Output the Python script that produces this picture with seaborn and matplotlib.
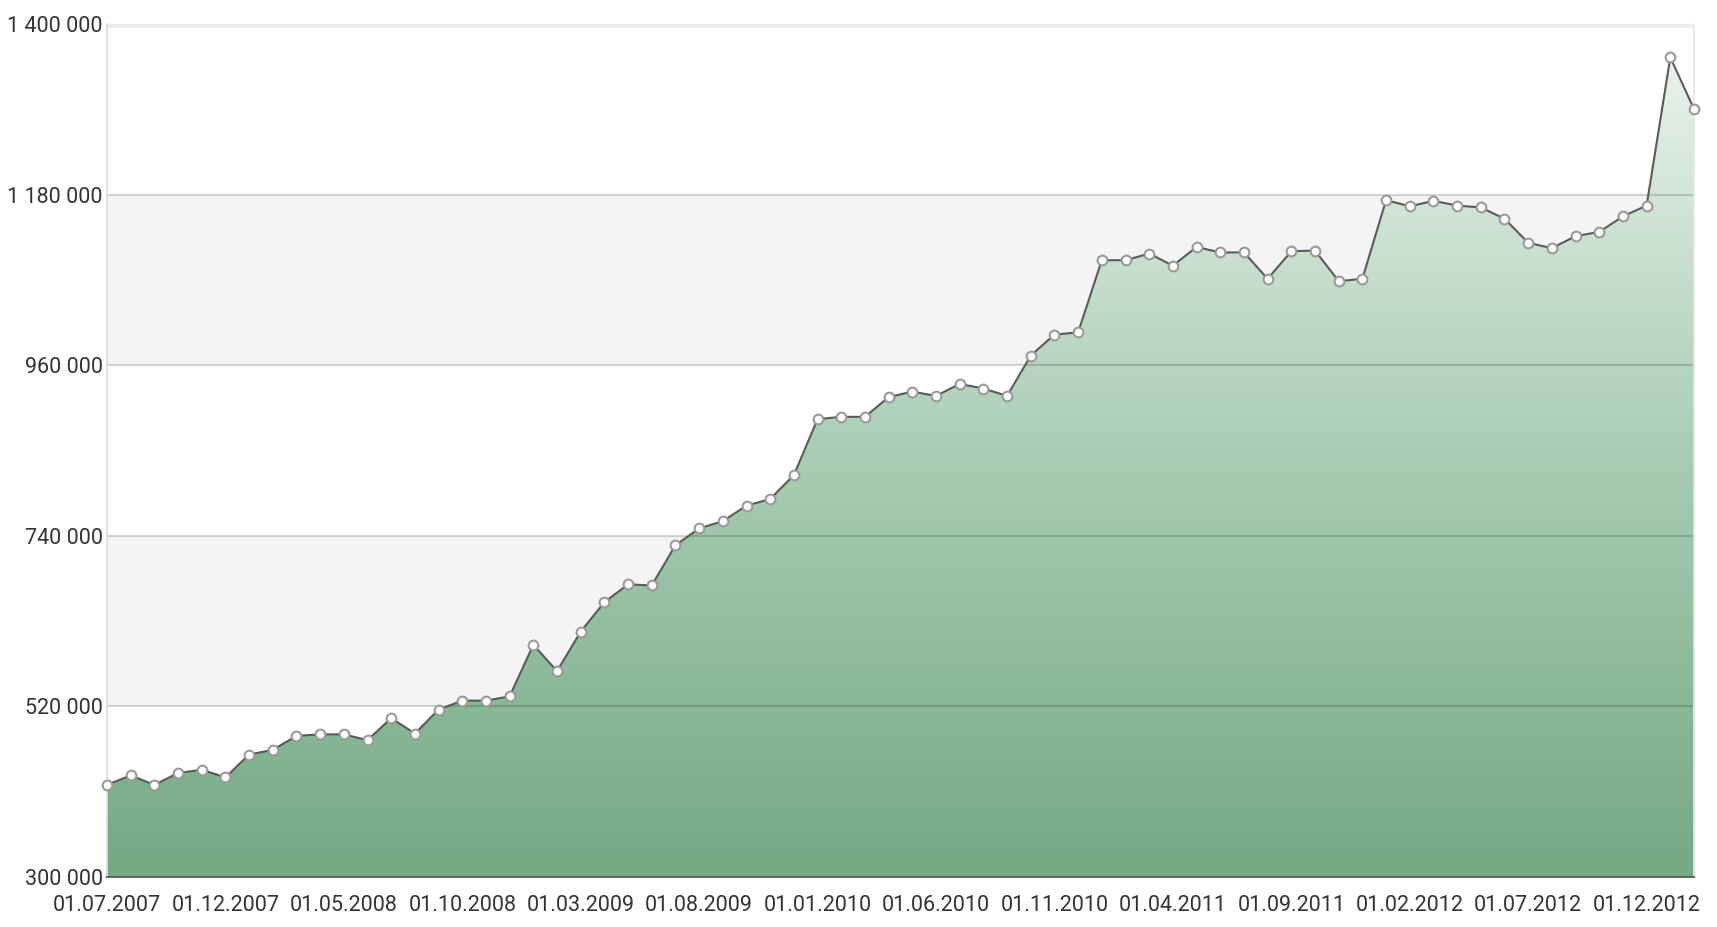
import numpy as np
import pandas as pd
import matplotlib
matplotlib.use("Agg")
import matplotlib.pyplot as plt
import seaborn as sns
from matplotlib.colors import LinearSegmentedColormap

# ---- data ----
months = pd.date_range("2007-07-01", "2013-02-01", freq="MS")
values = [419000, 431000, 419000, 434000, 438500, 428500, 458000, 464000, 482000, 484000,
          484000, 476500, 505000, 485000, 516000, 527500, 527500, 533000, 599500, 565500,
          616500, 654500, 677500, 676000, 728000, 749500, 759000, 779000, 787500, 818500,
          890500, 893500, 893500, 919000, 926000, 920500, 936000, 930000, 920500, 972500,
          999500, 1002500, 1095500, 1095500, 1104000, 1088500, 1112500, 1105500, 1105500, 1071500,
          1107000, 1108000, 1068500, 1071500, 1173000, 1165000, 1172000, 1166000, 1163500, 1149000,
          1118000, 1111000, 1126500, 1132000, 1152000, 1166000, 1357000, 1290500]
y_ticks = [300000, 520000, 740000, 960000, 1180000, 1400000]
tick_every = 5

df = pd.DataFrame({"idx": np.arange(len(values)), "value": values,
                   "label": [d.strftime("%d.%m.%Y") for d in months]})

sns.set_theme(style="white")
plt.rcParams["font.family"] = ["Roboto", "DejaVu Sans"]

fig = plt.figure(figsize=(17.17, 9.27), dpi=100)
ax = fig.add_axes([0.0623, 0.0539, 0.9243, 0.9201])

ymin, ymax = y_ticks[0], y_ticks[-1]
xmin, xmax = 0, len(values) - 1

# alternating bands
for i in range(len(y_ticks) - 1):
    if i % 2 == 1:
        ax.axhspan(y_ticks[i], y_ticks[i + 1], color="#f4f4f4", zorder=0, lw=0)

# gradient area
poly = ax.fill_between(df["idx"], df["value"], ymin, color="none", lw=0, zorder=1)
cmap = LinearSegmentedColormap.from_list("g", ["#74a984", "#a9cdb4", "#eef5f0"])
grad = np.linspace(0, 1, 256).reshape(-1, 1)
im = ax.imshow(grad, cmap=cmap, aspect="auto", origin="lower",
               extent=[xmin, xmax, ymin, ymax], zorder=1)
im.set_clip_path(poly.get_paths()[0], transform=ax.transData)

# gridlines above the fill
for yt in y_ticks[1:-1]:
    ax.axhline(yt, color=(0, 0, 0, 0.16), lw=1.5, zorder=2)
ax.axhline(ymax, color="#ececec", lw=5, zorder=2)

sns.lineplot(data=df, x="idx", y="value", ax=ax, color="#5a5a5a", lw=1.5,
             marker="o", markersize=7, markerfacecolor="white",
             markeredgecolor="#9a9a9a", markeredgewidth=1.5, zorder=3, clip_on=False)

ax.set_xlim(xmin, xmax)
ax.set_ylim(ymin, ymax)
ax.set_yticks(y_ticks)
ax.set_yticklabels([f"{v:,}".replace(",", " ") for v in y_ticks])
xt = list(range(0, len(values), tick_every))
ax.set_xticks(xt)
ax.set_xticklabels(df["label"].iloc[xt])
ax.tick_params(axis="both", labelsize=15.5, colors="#333333", length=0)
ax.tick_params(axis="y", pad=3)
ax.tick_params(axis="x", pad=13)
ax.set_xlabel("")
ax.set_ylabel("")

ax.spines["top"].set_visible(False)
ax.spines["right"].set_color("#e6e6e6")
ax.spines["left"].set_color("#dddddd")
ax.spines["bottom"].set_color("#666666")
ax.spines["bottom"].set_linewidth(1.5)
ax.spines["bottom"].set_zorder(4)

fig.savefig("out.png", dpi=100, facecolor="white")
